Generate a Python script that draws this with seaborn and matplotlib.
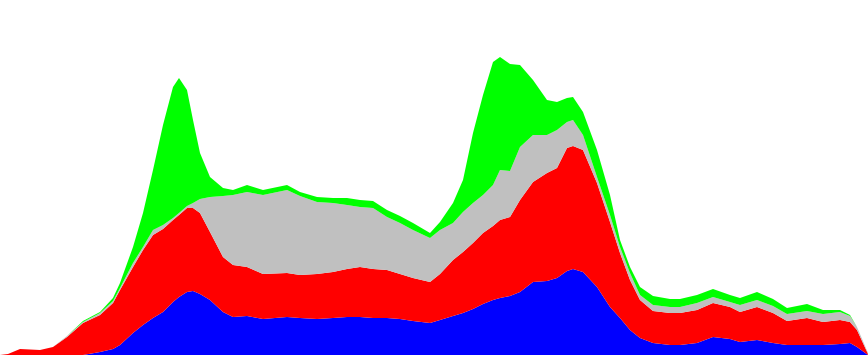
import matplotlib
matplotlib.use("Agg")
import matplotlib.pyplot as plt
import seaborn as sns

# x positions (time steps)
x = [0, 8, 20, 40, 53, 67, 83, 100, 113, 120, 133, 143, 153, 163, 173, 179, 187, 193,
     200, 210, 223, 233, 247, 263, 287, 300, 317, 333, 347, 360, 373, 387, 400, 413,
     430, 440, 453, 463, 473, 483, 493, 500, 510, 520, 533, 547, 557, 567, 573, 583,
     597, 610, 620, 630, 640, 653, 670, 680, 697, 713, 730, 740, 757, 773, 787, 807,
     823, 840, 850, 857, 868]

blue = [0, 0, 0, 0, 0, 0, 0, 3, 6, 10, 22, 30, 37, 43, 53, 58, 63, 64,
        61, 55, 43, 38, 39, 36, 38, 37, 36, 37, 38, 38, 37, 37, 36, 34,
        32, 35, 39, 42, 46, 51, 55, 57, 59, 63, 73, 74, 77, 84, 86, 83,
        68, 48, 37, 25, 17, 12, 10, 10, 12, 18, 16, 13, 15, 12, 10, 10,
        10, 11, 12, 8, 0]

red = [0, 1, 6, 5, 8, 18, 32, 37, 46, 55, 66, 75, 83, 83, 82, 82, 84, 83,
       81, 68, 55, 52, 49, 45, 44, 43, 45, 46, 48, 50, 49, 48, 45, 43,
       41, 46, 56, 61, 66, 71, 74, 78, 79, 92, 100, 108, 110, 123, 123, 122,
       104, 85, 65, 50, 38, 32, 32, 32, 33, 34, 32, 30, 33, 30, 24, 27,
       23, 24, 21, 17, 1]

gray = [0, 0, 0, 0, 0, 1, 1, 2, 2, 2, 4, 3, 5, 4, 2, 2, 2, 5,
        14, 35, 61, 70, 75, 79, 83, 79, 72, 69, 64, 60, 61, 53, 51, 48,
        44, 44, 37, 40, 40, 38, 41, 50, 46, 53, 47, 38, 38, 26, 26, 15,
        6, 7, 6, 7, 5, 6, 6, 6, 7, 6, 5, 7, 7, 7, 7, 7,
        8, 8, 6, 3, 1]

green = [0, 0, 0, 0, 0, 0, 1, 1, 3, 5, 16, 34, 60, 100, 131, 135, 116, 83,
         46, 20, 8, 5, 7, 5, 5, 4, 5, 5, 7, 7, 7, 7, 7, 7,
         5, 8, 20, 32, 70, 100, 123, 113, 107, 82, 55, 35, 28, 24, 23, 23,
         27, 20, 7, 6, 8, 9, 8, 8, 8, 8, 7, 7, 8, 7, 6, 7,
         4, 2, 1, 0, 0]

colors = ["#0000FF", "#FF0000", "#C0C0C0", "#00FF00"]

sns.set_theme(style="white")
fig = plt.figure(figsize=(8.68, 3.55), dpi=100)
ax = fig.add_axes([0, 0, 1, 1])
ax.stackplot(x, blue, red, gray, green, colors=colors, linewidth=0)
ax.set_xlim(0, 868)
ax.set_ylim(0, 355)
ax.axis("off")
fig.savefig("out.png", dpi=100, facecolor="white")
